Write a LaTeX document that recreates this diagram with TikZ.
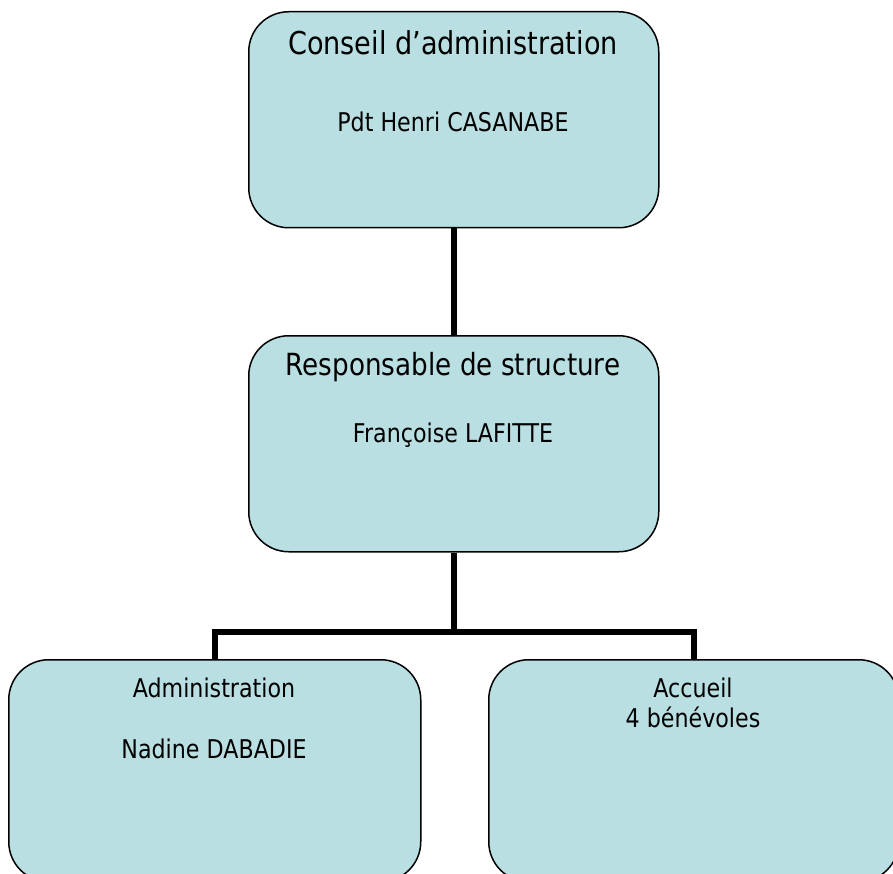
\documentclass[tikz,border=0pt]{standalone}
\usepackage{fontspec}
\setmainfont{DejaVu Sans}[FakeStretch=0.86]
\definecolor{boxfill}{HTML}{B9DFE2}
\begin{document}
\begin{tikzpicture}[x=1pt,y=1pt,
  orgbox/.style={draw=black,line width=1.5pt,fill=boxfill,rounded corners=40pt,
    minimum width=410pt,minimum height=216pt,inner sep=0pt,anchor=north west},
  bigtxt/.style={anchor=base,inner sep=0pt,font=\fontsize{30.5}{36}\selectfont},
  smalltxt/.style={anchor=base,inner sep=0pt,font=\fontsize{25.8}{30}\selectfont},
  link/.style={draw=black,line width=6pt}]
\useasboundingbox (0,0) rectangle (893,-874);
\node[orgbox] (b1) at (248,-11) {};
\node[orgbox] (b2) at (248,-335) {};
\node[orgbox,minimum width=412pt,minimum height=222pt] (b3) at (8,-659) {};
\node[orgbox,minimum width=410pt,minimum height=222pt] (b4) at (488,-659) {};
\node[bigtxt,font=\fontsize{31.5}{36}\selectfont] (t1) at (453,-55) {Conseil d’administration};
\node[smalltxt] (t1b) at (453,-132) {Pdt Henri CASANABE};
\node[bigtxt] (t2) at (453,-375) {Responsable de structure};
\node[smalltxt] (t2b) at (453,-442) {Françoise LAFITTE};
\node[smalltxt] (t3) at (214,-697) {Administration};
\node[smalltxt] (t3b) at (214,-758) {Nadine DABADIE};
\node[smalltxt] (t4) at (693,-697) {Accueil};
\node[smalltxt] (t4b) at (693,-727) {4 bénévoles};
\coordinate (j) at (b2.south |- 0,-632);
\draw[link] (b1.south) -- (b2.north);
\draw[link] (b2.south) -- (j);
\draw[link] (b3.north) |- (j) -| (b4.north);
\end{tikzpicture}
\end{document}
